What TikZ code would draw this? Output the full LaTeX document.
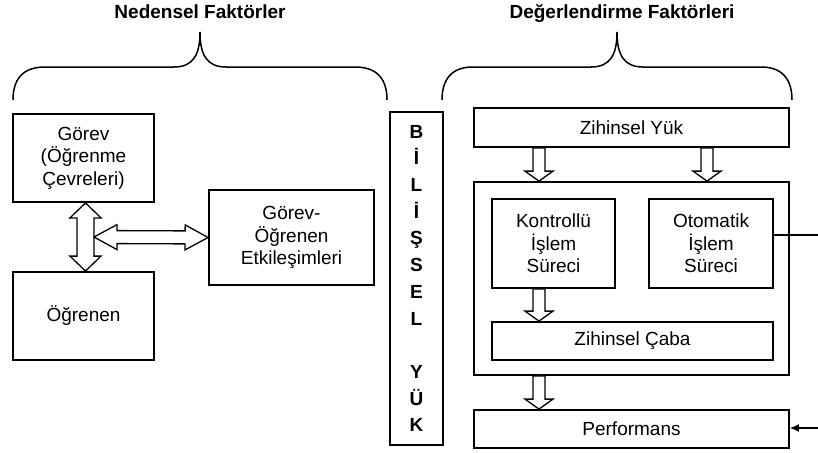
\documentclass[tikz,border=0pt]{standalone}
\usepackage{fontspec}
\setmainfont{Liberation Sans}
\usepackage{tikz}
\usetikzlibrary{arrows.meta,calc}

\begin{document}
\begin{tikzpicture}[
  x=1pt, y=-1pt,
  >=Latex,
  every node/.style={font=\fontsize{19pt}{22.5pt}\selectfont},
  boxframe/.style={draw, line width=1.8pt, inner sep=0pt, align=center},
  titletext/.style={font=\fontsize{19pt}{22pt}\selectfont\bfseries, anchor=base},
  bracepath/.style={line width=1.5pt},
  thinline/.style={line width=1.3pt},
  % block arrow: half shaft, half head, head length
  blockarrow/.style n args={3}{draw, fill=white, line width=1.3pt, to path={
    ($(\tikztostart)!#1!90:(\tikztotarget)$) --
    ($(\tikztotarget)!#3!(\tikztostart)!#1!-90:(\tikztostart)$) --
    ($(\tikztotarget)!#3!(\tikztostart)!#2!-90:(\tikztostart)$) --
    (\tikztotarget) --
    ($(\tikztotarget)!#3!(\tikztostart)!#2!90:(\tikztostart)$) --
    ($(\tikztotarget)!#3!(\tikztostart)!#1!90:(\tikztostart)$) --
    ($(\tikztostart)!#1!-90:(\tikztotarget)$) -- cycle}},
  dblockarrow/.style n args={3}{draw, fill=white, line width=1.3pt, to path={
    ($(\tikztostart)!#3!(\tikztotarget)!#1!90:(\tikztotarget)$) --
    ($(\tikztotarget)!#3!(\tikztostart)!#1!-90:(\tikztostart)$) --
    ($(\tikztotarget)!#3!(\tikztostart)!#2!-90:(\tikztostart)$) --
    (\tikztotarget) --
    ($(\tikztotarget)!#3!(\tikztostart)!#2!90:(\tikztostart)$) --
    ($(\tikztotarget)!#3!(\tikztostart)!#1!90:(\tikztostart)$) --
    ($(\tikztostart)!#3!(\tikztotarget)!#1!-90:(\tikztotarget)$) --
    ($(\tikztostart)!#3!(\tikztotarget)!#2!-90:(\tikztotarget)$) --
    (\tikztostart) --
    ($(\tikztostart)!#3!(\tikztotarget)!#2!90:(\tikztotarget)$) -- cycle}},
]
\useasboundingbox (0,0) rectangle (818,452);

%%% Left part: causal factors %%%
\node[titletext] (nedensel) at (200,18.5) {Nedensel Faktörler};
% Brace
\draw[bracepath] (13,100) .. controls (13,80) and (22,67) .. (45,67) -- (174,67)
  .. controls (193,67) and (200,55) .. (200,32)
  .. controls (200,55) and (207,67) .. (226,67) -- (355,67)
  .. controls (378,67) and (387,80) .. (387,100);

\node[boxframe, minimum width=141pt, minimum height=88pt] (gorev) at (83.5,158)
  {Görev\\(Öğrenme\\Çevreleri)};
\node[boxframe, minimum width=141pt, minimum height=88pt] (ogrenen) at (83.5,316)
  {Öğrenen};
\node[boxframe, minimum width=165pt, minimum height=95pt] (etk) at (291.5,237.5)
  {Görev-\\Öğrenen\\Etkileşimleri};

% Double block arrows
\coordinate (gtop) at ([xshift=2pt]gorev.south);
\coordinate (gbot) at ([xshift=2pt]ogrenen.north);
\coordinate (hleft) at ($(gtop)!0.5!(gbot)+(8.5,0)$);
\draw[dblockarrow={8.5pt}{15.5pt}{15pt}] (gtop) to (gbot);
\draw[dblockarrow={6.5pt}{12.5pt}{23pt}] (hleft) to (etk.west);

%%% Middle: cognitive load %%%
\node[boxframe, minimum width=53pt, minimum height=333pt,
  font=\fontsize{19pt}{26.7pt}\selectfont\bfseries] (bilissel) at (416.5,278.5)
  {B\\İ\\L\\İ\\Ş\\S\\E\\L\\~\\Y\\Ü\\K};

%%% Right part: assessment factors %%%
\node[titletext] (deger) at (622,18.5) {Değerlendirme Faktörleri};
% Brace
\draw[bracepath] (442,100) .. controls (442,80) and (451,67) .. (473,67) -- (591,67)
  .. controls (610,67) and (617,55) .. (617,32)
  .. controls (617,55) and (624,67) .. (643,67) -- (761,67)
  .. controls (783,67) and (792,80) .. (792,100);

\node[boxframe, minimum width=315pt, minimum height=39pt] (zyuk) at (631.5,127.5)
  {Zihinsel Yük};
\node[boxframe, minimum width=315pt, minimum height=193pt] (islem) at (631.5,278.5) {};
\node[boxframe, minimum width=123pt, minimum height=89pt] (kontrol) at (553.5,243.5)
  {Kontrollü\\İşlem\\Süreci};
\node[boxframe, minimum width=124pt, minimum height=89pt] (oto) at (711,243.5)
  {Otomatik\\İşlem\\Süreci};
\node[boxframe, minimum width=281pt, minimum height=38pt] (caba) at (632.5,341)
  {Zihinsel Çaba};
\node[boxframe, minimum width=315pt, minimum height=38pt] (perf) at (631.5,429)
  {Performans};

% Down block arrows
\coordinate (lx) at (539,0);
\coordinate (rx) at (707,0);
\draw[blockarrow={6pt}{14pt}{10pt}] (zyuk.south -| lx) to (islem.north -| lx);
\draw[blockarrow={6pt}{14pt}{10pt}] (zyuk.south -| rx) to (islem.north -| rx);
\draw[blockarrow={6pt}{14pt}{10pt}] (kontrol.south -| lx) to (caba.north -| lx);
\draw[blockarrow={6pt}{14pt}{10pt}] (islem.south -| lx) to (perf.north -| lx);

% Feedback line (runs off the edge)
\coordinate (rimtop) at (818,235);
\coordinate (rimbot) at (818,428);
\draw[thinline] (rimtop -| oto.east) -- (rimtop);
\draw[thinline, ->, >={Latex[length=9pt,width=8pt]}] (rimbot) -- (rimbot -| perf.east);

\end{tikzpicture}
\end{document}
